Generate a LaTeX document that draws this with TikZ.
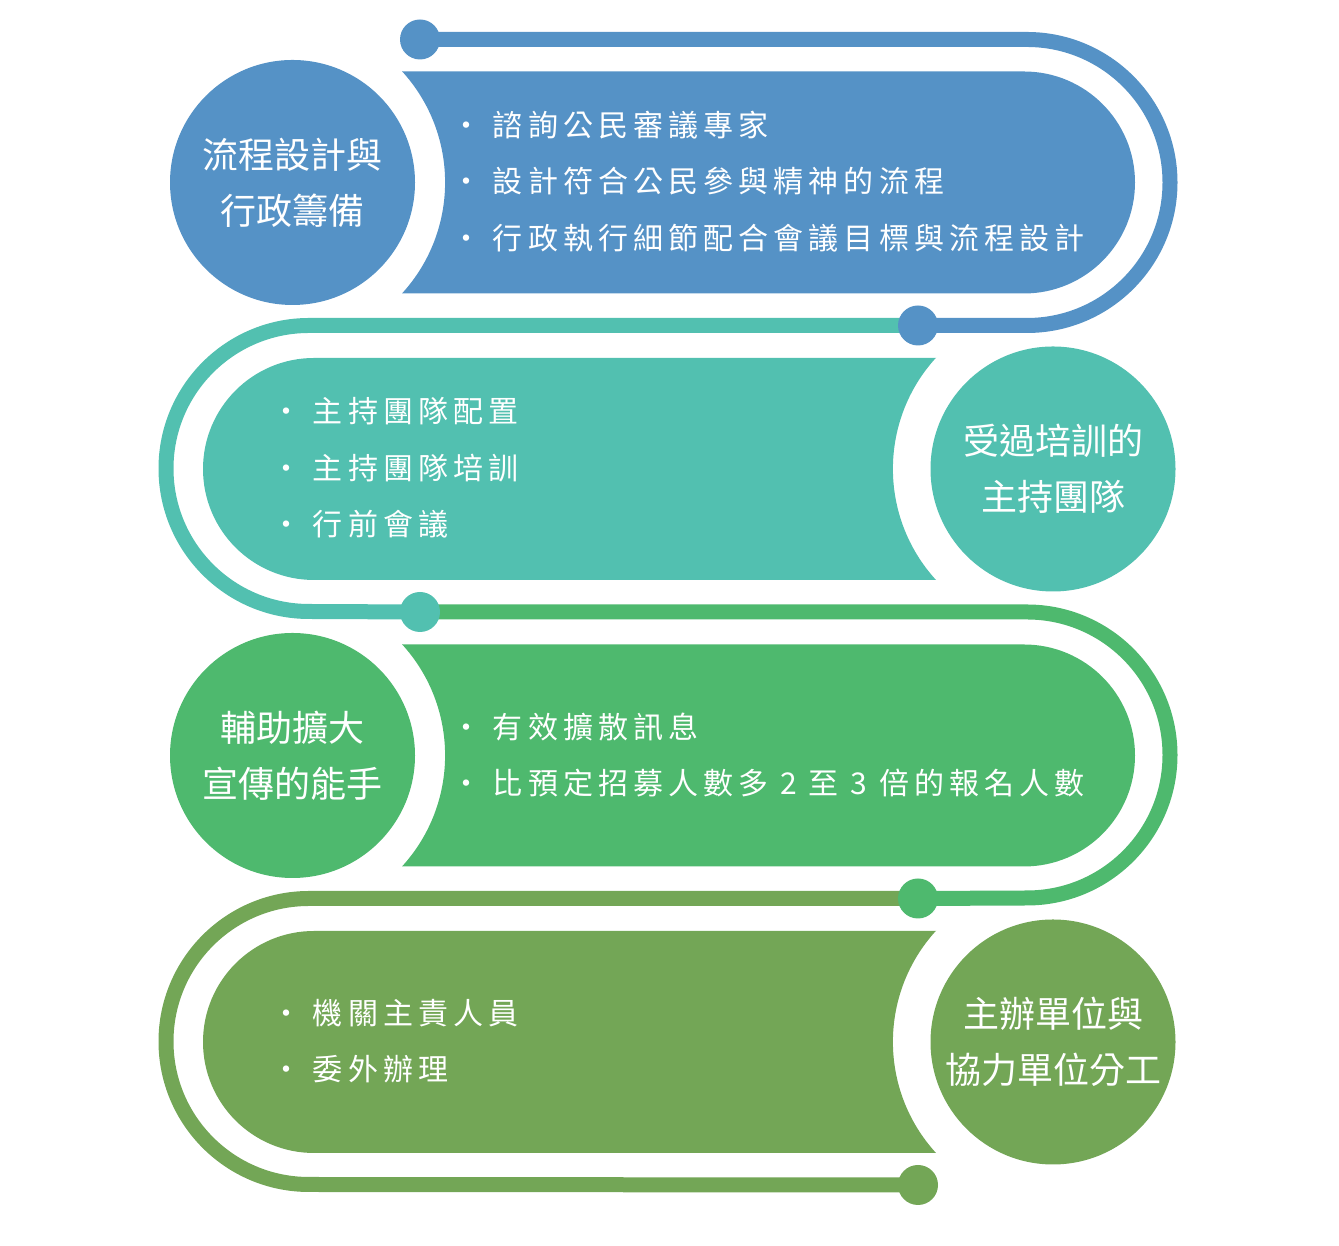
\documentclass[tikz,border=0pt]{standalone}
\usepackage{fontspec}
\setmainfont{Noto Sans CJK TC}
\newfontfamily\listfont[LetterSpace=17]{Noto Sans CJK TC}
\usetikzlibrary{shapes,backgrounds}
\definecolor{flowblue}{RGB}{85,146,198}
\definecolor{flowteal}{RGB}{82,192,176}
\definecolor{flowgreen}{RGB}{78,185,110}
\definecolor{flowolive}{RGB}{115,166,86}
\tikzset{
  track/.style={line width=15pt},
  title/.style={text=white, align=center, inner sep=0pt, font=\fontsize{36}{56}\selectfont},
  items/.style={text=white, align=left, anchor=west, inner sep=0pt, font=\listfont\fontsize{30}{56.5}\selectfont}
}

\begin{document}
\begin{tikzpicture}[x=1pt,y=1pt]
\useasboundingbox (0,0) rectangle (1339,1246);
\draw[track,flowblue] (420,1206.5) -- (1027,1206.5) arc[start angle=90,end angle=-90,radius=143] -- (918,920.5);
\draw[track,flowteal] (918,920.5) -- (309,920.5) arc[start angle=90,end angle=270,radius=143] -- (420,634);
\draw[track,flowgreen] (420,634) -- (1027,634) arc[start angle=90,end angle=-90,radius=143] -- (918,347.5);
\draw[track,flowolive] (918,347.5) -- (309,347.5) arc[start angle=90,end angle=270,radius=143] -- (918,61);
\fill[flowblue] (420,1206.5) circle (20);
\fill[flowblue] (918,920.5) circle (20);
\fill[flowteal] (420,634) circle (20);
\fill[flowgreen] (918,347.5) circle (20);
\fill[flowolive] (918,61) circle (20);

\fill[flowblue] (402,1174.5) -- (1024,1174.5) arc[start angle=90,end angle=-90,radius=111] -- (402,952.5) arc[start angle=-42.4,end angle=42.4,radius=164.8] -- cycle;
\fill[flowteal] (936,888) -- (314,888) arc[start angle=90,end angle=270,radius=111] -- (936,666) arc[start angle=222.4,end angle=137.6,radius=164.8] -- cycle;
\fill[flowgreen] (402,601.5) -- (1024,601.5) arc[start angle=90,end angle=-90,radius=111] -- (402,379.5) arc[start angle=-42.4,end angle=42.4,radius=164.8] -- cycle;
\fill[flowolive] (936,315) -- (314,315) arc[start angle=90,end angle=270,radius=111] -- (936,93) arc[start angle=222.4,end angle=137.6,radius=164.8] -- cycle;

\fill[flowblue] (292.5,1063.5) circle (122.5);
\fill[flowteal] (1053,777) circle (122.5);
\fill[flowgreen] (292.5,490.5) circle (122.5);
\fill[flowolive] (1053,204) circle (122.5);

\node[title] (prep) at (292.5,1063.5) {流程設計與\\行政籌備};
\node[title] (team) at (1053,777) {受過培訓的\\主持團隊};
\node[title] (promo) at (292.5,490.5) {輔助擴大\\宣傳的能手};
\node[title] (split) at (1053,204) {主辦單位與\\協力單位分工};

\node[items] (prepitems) at (451,1064.5) {· 諮詢公民審議專家\\· 設計符合公民參與精神的流程\\· 行政執行細節配合會議目標與流程設計};
\node[items] (teamitems) at (271,778) {· 主持團隊配置\\· 主持團隊培訓\\· 行前會議};
\node[items] (promoitems) at (451,491) {· 有效擴散訊息\\· 比預定招募人數多 2 至 3 倍的報名人數};
\node[items] (splititems) at (271,205) {· 機關主責人員\\· 委外辦理};
\end{tikzpicture}
\end{document}
